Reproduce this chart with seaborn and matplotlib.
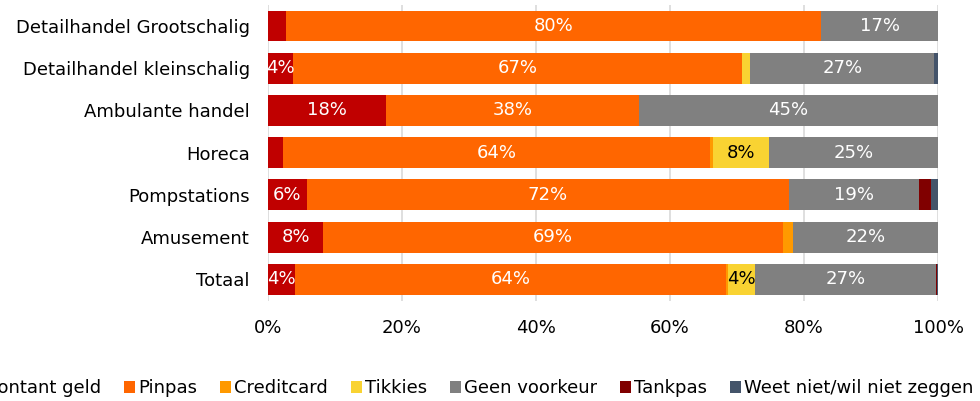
import numpy as np
import pandas as pd
import matplotlib.pyplot as plt
import seaborn as sns
from matplotlib.patches import Patch

sns.set_style("white")
plt.rcParams["font.family"] = ["DejaVu Sans"]
plt.rcParams["text.color"] = "black"
plt.rcParams["xtick.color"] = "black"
plt.rcParams["ytick.color"] = "black"

# Data (shares in %)
categories = [
    "Detailhandel Grootschalig",
    "Detailhandel kleinschalig",
    "Ambulante handel",
    "Horeca",
    "Pompstations",
    "Amusement",
    "Totaal",
]
series = ["Contant geld", "Pinpas", "Creditcard", "Tikkies",
          "Geen voorkeur", "Tankpas", "Weet niet/wil niet zeggen"]

contant = [2.7, 3.8, 17.6, 2.2, 5.8, 8.2, 4.0]
pinpas = [79.9, 67.0, 37.7, 63.8, 71.9, 68.6, 64.4]
creditcard = [0.0, 0.0, 0.0, 0.4, 0.0, 1.6, 0.3]
tikkies = [0.0, 1.2, 0.0, 8.4, 0.0, 0.0, 4.0]
geen_voorkeur = [17.4, 27.4, 44.7, 25.2, 19.4, 21.6, 27.0]
tankpas = [0.0, 0.0, 0.0, 0.0, 1.9, 0.0, 0.1]
weet_niet = [0.0, 0.6, 0.0, 0.0, 1.0, 0.0, 0.2]

colors = ["#C00000", "#FF6600", "#FF9900", "#F9D332", "#808080", "#800000", "#44546A"]
label_colors = ["white", "white", "white", "black", "white", "white", "white"]

df = pd.DataFrame(
    {s: v for s, v in zip(series, [contant, pinpas, creditcard, tikkies,
                                   geen_voorkeur, tankpas, weet_niet])},
    index=categories,
)
cum = df.cumsum(axis=1)

fs = 13

fig = plt.figure(figsize=(9.8, 4.01), dpi=100)
ax = fig.add_axes([0.2735, 0.2506, 0.6837, 0.7374])

# stacked bars: draw cumulative totals from last series to first
for s, c in reversed(list(zip(series, colors))):
    sns.barplot(x=cum[s].values, y=categories, color=c, orient="h",
                width=0.73, saturation=1, ax=ax, linewidth=0)

# value labels
for i, cat in enumerate(categories):
    for s, lc in zip(series, label_colors):
        v = df.loc[cat, s]
        if round(v) >= 4:
            centre = cum.loc[cat, s] - v / 2
            ax.text(centre, i, f"{v:.0f}%", ha="center", va="center",
                    color=lc, fontsize=fs)

ax.set_xlim(0, 100)
ax.set_ylim(6.5, -0.5)
ax.set_xticks(np.arange(0, 101, 20))
ax.set_xticklabels([f"{t}%" for t in range(0, 101, 20)], fontsize=fs)
ax.tick_params(axis="y", labelsize=fs, length=0, pad=13)
ax.tick_params(axis="x", length=0, pad=13)
ax.set_xlabel("")
ax.set_ylabel("")
ax.xaxis.grid(True, color="#D9D9D9", linewidth=1.2)
ax.set_axisbelow(True)
for sp in ax.spines.values():
    sp.set_visible(False)

# legend is wider than the figure, as in the original (left edge cut)
handles = [Patch(facecolor=c, edgecolor="none", label=s) for s, c in zip(series, colors)]
fig.legend(handles=handles, loc="center", bbox_to_anchor=(0.482, 0.032), ncol=7,
           frameon=False, fontsize=fs, handlelength=0.6, handleheight=0.6,
           handletextpad=0.2, columnspacing=1.25)

fig.savefig("out.png", dpi=100, facecolor="white")
